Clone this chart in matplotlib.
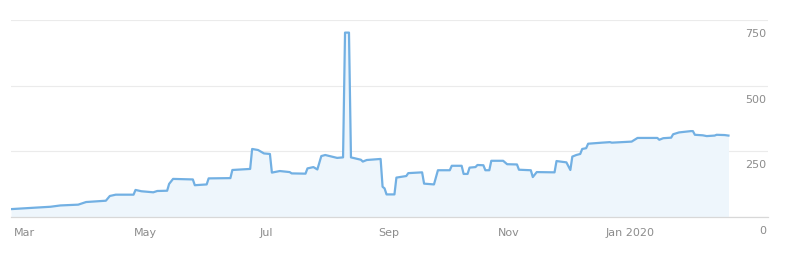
import matplotlib
matplotlib.use("Agg")
import matplotlib.pyplot as plt
import matplotlib.dates as mdates
import matplotlib.transforms as mtransforms
import numpy as np
import pandas as pd

# values
dates = ["2019-02-22", "2019-03-05", "2019-03-14", "2019-03-19", "2019-03-28",
         "2019-04-01", "2019-04-11", "2019-04-13", "2019-04-16", "2019-04-25",
         "2019-04-26", "2019-04-29", "2019-05-05", "2019-05-07", "2019-05-12",
         "2019-05-13", "2019-05-15", "2019-05-25", "2019-05-26", "2019-06-01",
         "2019-06-02", "2019-06-13", "2019-06-14", "2019-06-23", "2019-06-24",
         "2019-06-27", "2019-06-30", "2019-07-03", "2019-07-04", "2019-07-08",
         "2019-07-13", "2019-07-14", "2019-07-21", "2019-07-22", "2019-07-25",
         "2019-07-27", "2019-07-29", "2019-07-31", "2019-08-06", "2019-08-09",
         "2019-08-10", "2019-08-12", "2019-08-13", "2019-08-18", "2019-08-19",
         "2019-08-21", "2019-08-28", "2019-08-29", "2019-08-30", "2019-08-31",
         "2019-09-04", "2019-09-05", "2019-09-10", "2019-09-11", "2019-09-18",
         "2019-09-19", "2019-09-24", "2019-09-26", "2019-10-02", "2019-10-03",
         "2019-10-08", "2019-10-09", "2019-10-11", "2019-10-12", "2019-10-15",
         "2019-10-16", "2019-10-19", "2019-10-20", "2019-10-22", "2019-10-23",
         "2019-10-29", "2019-10-31", "2019-11-05", "2019-11-06", "2019-11-12",
         "2019-11-13", "2019-11-15", "2019-11-24", "2019-11-25", "2019-11-30",
         "2019-12-02", "2019-12-03", "2019-12-05", "2019-12-07", "2019-12-08",
         "2019-12-10", "2019-12-11", "2019-12-18", "2019-12-22", "2019-12-23",
         "2020-01-02", "2020-01-05", "2020-01-15", "2020-01-16", "2020-01-18",
         "2020-01-22", "2020-01-23", "2020-01-26", "2020-02-01", "2020-02-02",
         "2020-02-03", "2020-02-07", "2020-02-09", "2020-02-13", "2020-02-14",
         "2020-02-18", "2020-02-20"]
values = [30, 35, 39, 44, 47,
          57, 62, 80, 85, 85,
          103, 98, 94, 99, 100,
          126, 145, 143, 121, 124,
          147, 148, 179, 183, 259,
          255, 242, 240, 169, 175,
          171, 166, 165, 185, 190,
          181, 232, 236, 225, 227,
          702, 702, 227, 218, 211,
          217, 221, 115, 109, 86,
          86, 150, 156, 167, 170,
          127, 124, 178, 178, 195,
          195, 164, 164, 188, 190,
          198, 197, 178, 178, 214,
          214, 201, 200, 180, 178,
          152, 171, 170, 213, 208,
          179, 230, 236, 240, 259,
          262, 279, 283, 285, 283,
          287, 301, 301, 294, 300,
          302, 315, 322, 327, 327,
          313, 311, 308, 310, 313,
          312, 310]

tick_dates = ["2019-03-01", "2019-05-01", "2019-07-01", "2019-09-01",
              "2019-11-01", "2020-01-01"]
tick_labels = ["Mar", "May", "Jul", "Sep", "Nov", "Jan 2020"]
y_ticks = [0, 250, 500, 750]

x = pd.to_datetime(dates)

fig = plt.figure(figsize=(7.87, 2.57), dpi=100)
ax = fig.add_axes([11/787, 40/257, 757/787, 197/257])

ax.fill_between(x, values, 0, color="#eef6fc", lw=0)
ax.plot(x, values, color="#72b0e3", lw=1.6, solid_joinstyle="round")

ax.set_xlim(pd.Timestamp("2019-02-22"), pd.Timestamp("2020-03-11"))
ax.set_ylim(0, 750)

ax.set_xticks(pd.to_datetime(tick_dates))
ax.set_xticklabels(tick_labels)
ax.tick_params(axis="x", direction="in", length=5, color="#d8d8d8",
               labelsize=8, labelcolor="#8c8c8c", pad=8)

# horizontal grid, labels sit under each line on the right
ax.set_yticks(y_ticks)
ax.yaxis.grid(True, color="#ebebeb", lw=0.8)
ax.tick_params(axis="y", left=False, labelleft=False)
ax.set_axisbelow(True)
off = mtransforms.offset_copy(ax.get_yaxis_transform(), fig=fig, x=-2, y=-14, units="dots")
for v in y_ticks:
    ax.text(1.0, v, str(v), transform=off, ha="right", va="center",
            fontsize=8, color="#8c8c8c")

for s in ["top", "left", "right"]:
    ax.spines[s].set_visible(False)
ax.spines["bottom"].set_color("#d8d8d8")
ax.spines["bottom"].set_linewidth(0.9)

fig.savefig("out.png", dpi=100)
